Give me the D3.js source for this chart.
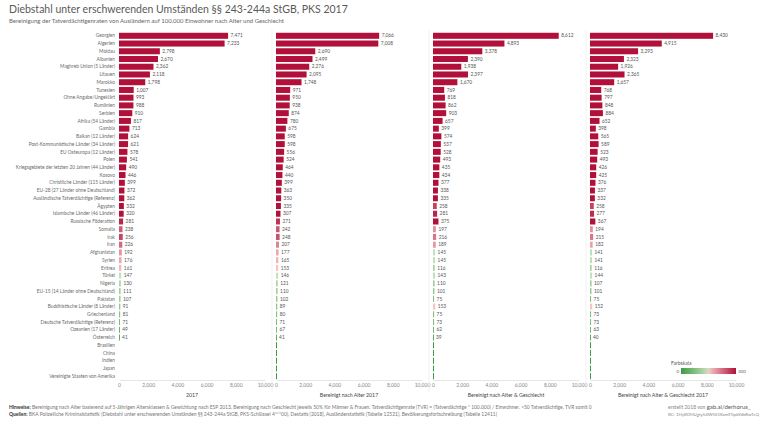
<!DOCTYPE html>
<html><head><meta charset="utf-8">
<script src="https://cdn.jsdelivr.net/npm/d3@7"></script>
<style>
html,body{margin:0;padding:0;background:#fff;}
svg{display:block;font-family:Lato,"Open Sans",sans-serif;}
</style></head>
<body>
<svg id="chart" width="768" height="432"></svg>
<script>
const categories = ["Georgien","Algerien","Moldau","Albanien","Maghreb Union (5 Länder)","Litauen","Marokko","Tunesien","Ohne Angabe/Ungeklärt","Rumänien","Serbien","Afrika (54 Länder)","Gambia","Balkan (12 Länder)","Post-Kommunistische Länder (34 Länder)","EU Osteuropa (12 Länder)","Polen","Kriegsgebiete der letzten 20 Jahren (44 Länder)","Kosovo","Christliche Länder (115 Länder)","EU-28 (27 Länder ohne Deutschland)","Ausländische Tatverdächtige (Referenz)","Ägypten","Islamische Länder (46 Länder)","Russische Föderation","Somalia","Irak","Iran","Afghanistan","Syrien","Eritrea","Türkei","Nigeria","EU-15 (14 Länder ohne Deutschland)","Pakistan","Buddhistische Länder (8 Länder)","Griechenland","Deutsche Tatverdächtige (Referenz)","Ozeanien (17 Länder)","Österreich","Brasilien","China","Indien","Japan","Vereinigte Staaten von Amerika"];
const values2017 = [7471,7233,2798,2670,2362,2118,1798,1007,993,988,910,817,713,624,621,578,541,490,446,399,372,362,332,320,281,238,256,226,192,176,161,147,130,111,107,91,81,71,49,41,null,null,null,null,null];
const valuesAge = [7066,7008,2690,2499,2276,2095,1748,971,950,938,874,780,675,598,598,556,524,464,440,399,363,350,335,307,271,242,248,207,177,165,153,146,121,110,102,89,80,71,67,41,0,0,0,0,0];
const valuesAgeSexA = [8612,4893,3378,2390,1938,2397,1670,769,818,862,903,657,399,574,537,528,493,435,434,377,338,335,258,281,375,197,216,189,145,145,116,143,110,101,75,153,75,73,62,39,0,0,0,0,0];
const valuesAgeSex = [8430,4915,3293,2323,1926,2365,1657,768,797,848,884,652,398,565,589,523,493,426,425,376,337,332,258,277,367,194,215,182,141,141,116,144,107,101,75,152,73,73,63,40,0,0,0,0,0];
const axisTicks = [0,2000,4000,6000,8000,10000];
const panelTitles = ["2017","Bereinigt nach Alter 2017","Bereinigt nach Alter & Geschlecht","Bereinigt nach Alter & Geschlecht 2017"];
const legendTicks = [0,300];

const svg = d3.select("#chart");
const textCol = "#6b6b6b";

svg.append("text").attr("x",9).attr("y",13).attr("font-size",10.5).attr("fill","#5a5a5a")
  .text("Diebstahl unter erschwerenden Umständen §§ 243-244a StGB, PKS 2017");
svg.append("text").attr("x",9).attr("y",23).attr("font-size",6).attr("fill","#666")
  .text("Bereinigung der Tatverdächtigenraten von Ausländern auf 100.000 Einwohner nach Alter und Geschlecht");

const y = d3.scaleBand().domain(categories).range([32,380]).paddingInner(0.22).paddingOuter(0.1);
const color = d3.scaleLinear().domain([0,149,151,300]).range(["#3f9a45","#c4e3bd","#f8c6c6","#b0103a"]).clamp(true);
const fmt = d3.format(",");

svg.append("g").selectAll("text").data(categories).join("text")
  .attr("x",115).attr("y",d=>y(d)+y.bandwidth()/2).attr("dy","0.35em")
  .attr("text-anchor","end").attr("font-size",4.8).attr("fill",textCol).text(d=>d);

const panels = [
  {x0:119, vals:values2017, title:panelTitles[0]},
  {x0:276, vals:valuesAge, title:panelTitles[1]},
  {x0:433, vals:valuesAgeSexA, title:panelTitles[2]},
  {x0:590, vals:valuesAgeSex, title:panelTitles[3]}
];
const pw = 146;

panels.forEach((p,pi)=>{
  const x = d3.scaleLinear().domain([0,10000]).range([p.x0,p.x0+pw]);
  const g = svg.append("g");
  const rows = categories.map((c,i)=>({c, v:p.vals[i]})).filter(d=>d.v!==null);
  g.selectAll("rect").data(rows).join("rect")
    .attr("x",x(0)).attr("y",d=>y(d.c))
    .attr("width",d=>Math.max(1,x(d.v)-x(0))).attr("height",y.bandwidth())
    .attr("fill",d=>color(d.v));
  g.selectAll("text.v").data(rows.filter(d=>d.v>0)).join("text").attr("class","v")
    .attr("x",d=>x(d.v)+2.5).attr("y",d=>y(d.c)+y.bandwidth()/2).attr("dy","0.35em")
    .attr("font-size",4.8).attr("fill","#555").text(d=>fmt(d.v));
  const ax = d3.axisBottom(x).tickValues(axisTicks).tickFormat(fmt).tickSize(0).tickPadding(3);
  const ag = svg.append("g").attr("transform","translate(0,380)").call(ax);
  ag.select(".domain").attr("stroke","#e6e6e6");
  ag.selectAll("text").attr("font-size",5).attr("fill","#888").attr("font-family","Lato,sans-serif");
  svg.append("text").attr("x",p.x0+pw/2).attr("y",397).attr("text-anchor","middle")
    .attr("font-size",5.2).attr("fill","#444").text(p.title);
  if(pi>0){
    svg.append("line").attr("x1",p.x0-4).attr("x2",p.x0-4).attr("y1",30).attr("y2",392)
      .attr("stroke","#eeeeee").attr("stroke-width",0.8);
  }
});

const lg = svg.append("g");
lg.append("rect").attr("x",668).attr("y",358).attr("width",80).attr("height",20).attr("fill","#fff");
lg.append("text").attr("x",671).attr("y",365).attr("font-size",5).attr("fill","#555").text("Farbskala");
const grad = svg.append("defs").append("linearGradient").attr("id","lgrad");
d3.range(0,1.0001,0.1).forEach(t=>grad.append("stop").attr("offset",t).attr("stop-color",color(t*300)));
const lx = d3.scaleLinear().domain([0,300]).range([681,736]);
lg.append("rect").attr("x",lx(0)).attr("y",368).attr("width",lx(300)-lx(0)).attr("height",6).attr("fill","url(#lgrad)");
lg.append("text").attr("x",lx(0)-2).attr("y",373).attr("text-anchor","end").attr("font-size",4.5).attr("fill","#666").text(legendTicks[0]);
lg.append("text").attr("x",lx(300)+2).attr("y",373).attr("font-size",4.5).attr("fill","#666").text(legendTicks[1]);

const f1 = svg.append("text").attr("x",9).attr("y",409).attr("font-size",4.95).attr("fill","#777");
f1.append("tspan").attr("font-weight","bold").attr("fill","#333").text("Hinweise: ");
f1.append("tspan").text("Bereinigung nach Alter basierend auf 5-Jährigen Altersklassen & Gewichtung nach ESP 2013. Bereinigung nach Geschlecht jeweils 50% für Männer & Frauen. Tatverdächtigenrate (TVR) = (Tatverdächtige * 100.000) / Einwohner. <50 Tatverdächtige, TVR somit 0");
const f2 = svg.append("text").attr("x",9).attr("y",416).attr("font-size",4.95).attr("fill","#777");
f2.append("tspan").attr("font-weight","bold").attr("fill","#333").text("Quellen: ");
f2.append("tspan").text("BKA Polizeiliche Kriminalstatistik (Diebstahl unter erschwerenden Umständen §§ 243-244a StGB, PKS-Schlüssel 4***00), Destatis (2018), Ausländerstatistik (Tabelle 12521), Bevölkerungsfortschreibung (Tabelle 12411)");
const f3 = svg.append("text").attr("x",668).attr("y",409).attr("font-size",5).attr("fill","#888");
f3.append("tspan").text("erstellt 2018 von ");
f3.append("tspan").attr("font-size",6).attr("fill","#555").text("gab.ai/derhorus_");
svg.append("text").attr("x",668).attr("y",416).attr("font-size",4.4).attr("fill","#888")
  .text("BC: 1HyBDHUgty54W5S1KxmTGpbYdbRwTeQ");
</script>
</body></html>
